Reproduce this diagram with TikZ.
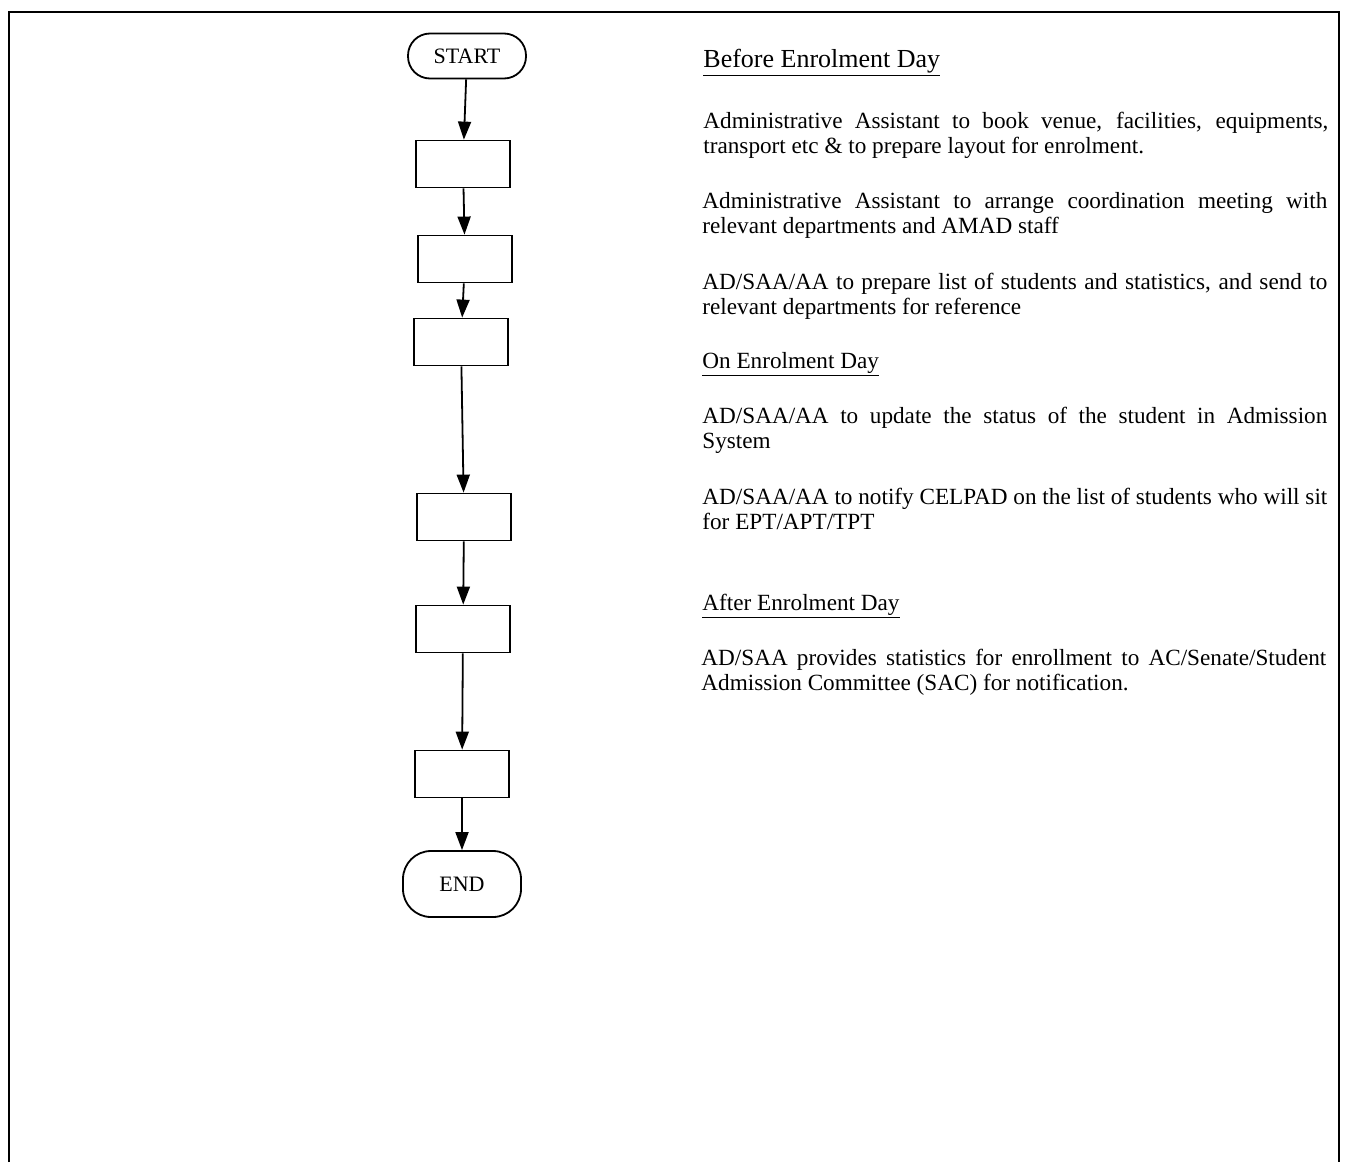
\documentclass[tikz,border=0pt]{standalone}
\usepackage{fontspec}
\setmainfont{Liberation Serif}
\usetikzlibrary{arrows.meta}
\hyphenpenalty=10000
\exhyphenpenalty=10000
\begin{document}
\begin{tikzpicture}[x=0.5pt,y=-0.5pt,>={Triangle[length=9pt,width=6.5pt]},frame/.style={line width=1pt},terminal/.style={draw,line width=0.9pt,rounded corners=11pt,minimum width=59pt,font=\fontsize{11}{12}\selectfont},stepbox/.style={draw,line width=0.9pt,minimum width=47pt,minimum height=23.5pt},arrow/.style={->,line width=0.9pt},heading/.style={anchor=base west,inner sep=0pt,font=\fontsize{11.6}{12.5}\selectfont},para/.style={anchor=base west,inner sep=0pt,text width=312.5pt,align=justify,font=\fontsize{11.6}{12.5}\selectfont}]
\useasboundingbox (0,0) rectangle (1349,1162);
\draw[frame] (9,1162)--(9,12)--(1339,12)--(1339,1162);
% flow chart
\node[terminal,minimum height=22.5pt] (start) at (467,56) {START};
\node[stepbox] (b1) at (463,164) {}; \node[stepbox] (b2) at (465,259) {}; \node[stepbox] (b3) at (461,342) {};
\node[stepbox] (b4) at (464,517) {}; \node[stepbox] (b5) at (463,629) {}; \node[stepbox] (b6) at (462,774) {};
\node[terminal,minimum height=33pt,rounded corners=14pt] (stop) at (462,884) {END};
\draw[arrow] (start)--(b1); \draw[arrow] (b1)--(b2); \draw[arrow] (b2)--(b3); \draw[arrow] (b3)--(b4);
\draw[arrow] (b4)--(b5); \draw[arrow] (b5)--(b6); \draw[arrow] (b6)--(stop);
% notes
\node[heading,font=\fontsize{13}{14}\selectfont] (h1) at (703,67) {\underline{Before Enrolment Day}};
\node[para] (p1) at (703,128) {Administrative Assistant to book venue, facilities, equipments, transport etc \& to prepare layout for enrolment.};
\node[para] (p2) at (702,208) {Administrative Assistant to arrange coordination meeting with relevant departments and AMAD staff};
\node[para] (p3) at (702,289) {AD/SAA/AA to prepare list of students and statistics, and send to relevant departments for reference};
\node[heading] (h2) at (702,368) {\underline{On Enrolment Day}};
\node[para] (p4) at (702,423) {AD/SAA/AA to update the status of the student in Admission System};
\node[para] (p5) at (702,504) {AD/SAA/AA to notify CELPAD on the list of students who will sit for EPT/APT/TPT};
\node[heading] (h3) at (702,610) {\underline{After Enrolment Day}};
\node[para] (p6) at (701,665) {AD/SAA provides statistics for enrollment to AC/Senate/Student Admission Committee (SAC) for notification.};
\end{tikzpicture}
\end{document}
